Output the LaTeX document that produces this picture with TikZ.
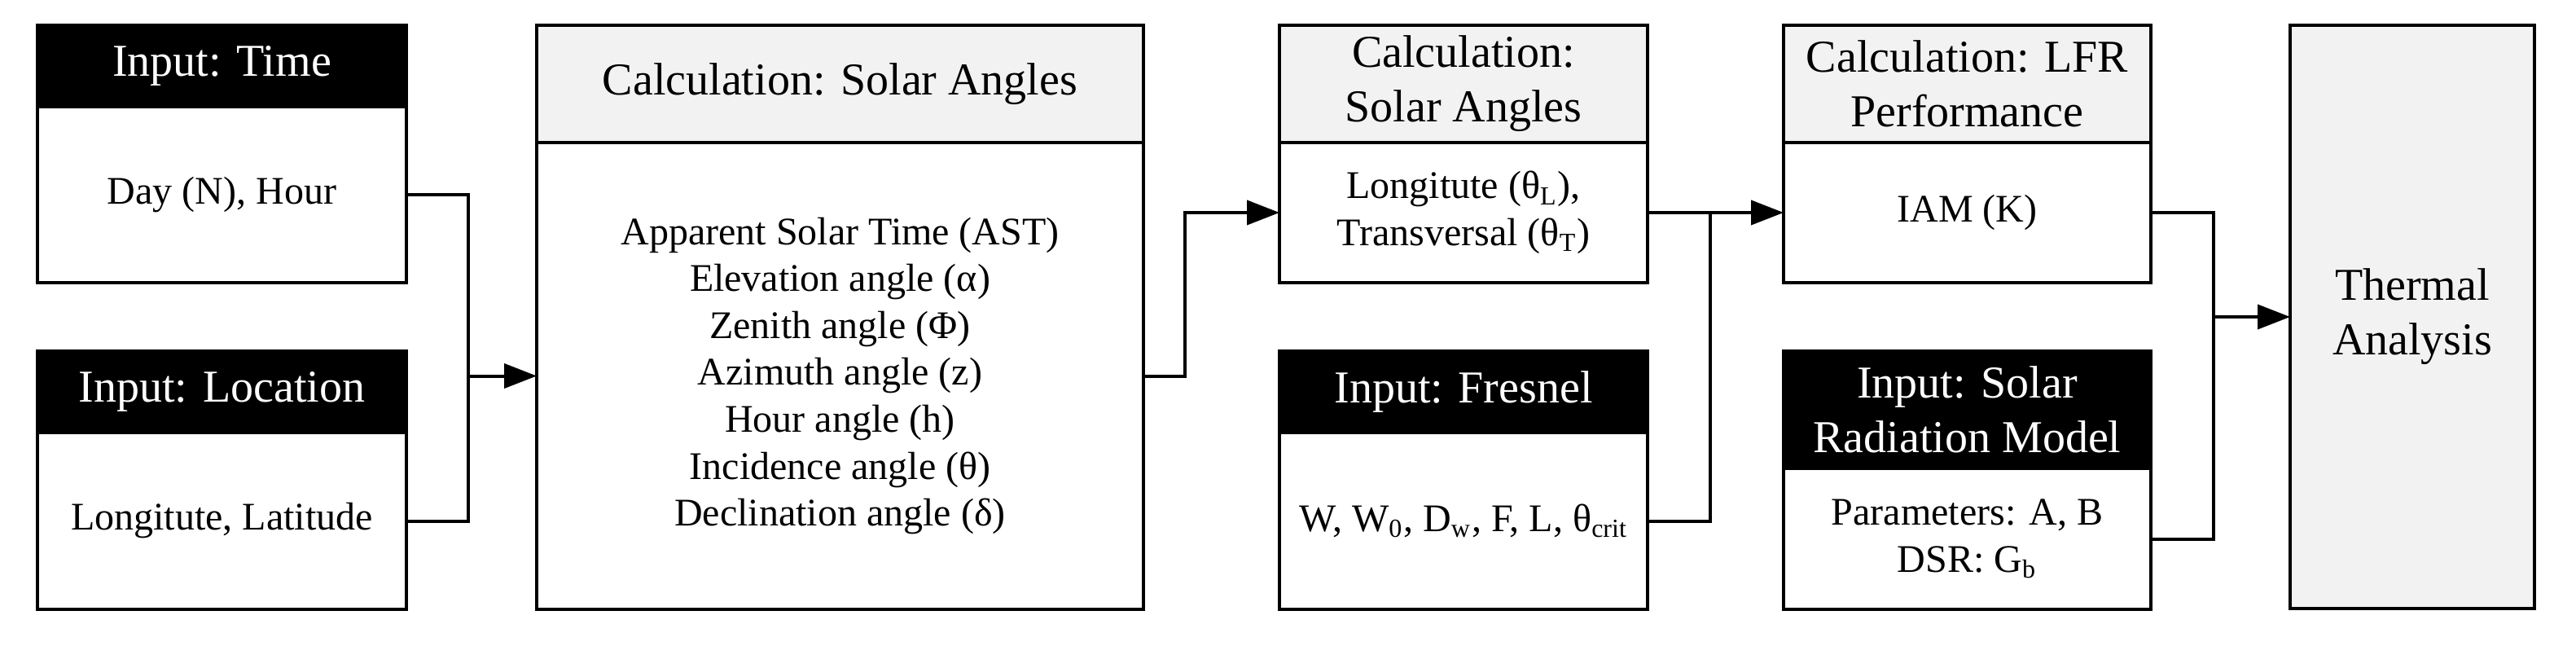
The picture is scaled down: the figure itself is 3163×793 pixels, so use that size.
\documentclass[tikz,border=0pt]{standalone}
\usepackage{fontspec}
\setmainfont{Liberation Serif}
\usetikzlibrary{arrows.meta,calc}
\definecolor{hdrgray}{RGB}{242,242,242}
\tikzset{
  box/.style={draw, line width=1pt, anchor=north west, inner sep=0pt, outer sep=0pt, align=center,
    font=\fontsize{12}{14.4}\selectfont},
  inhdr/.style={box, fill=black, text=white, font=\fontsize{14}{16.8}\selectfont},
  calchdr/.style={box, fill=hdrgray, font=\fontsize{14}{16.8}\selectfont},
  conn/.style={line width=1pt},
  arr/.style={line width=1pt, -{Triangle[length=10pt,width=7.5pt]}},
}
\begin{document}
\begin{tikzpicture}[x=0.25pt,y=-0.25pt]
\useasboundingbox (0,0) rectangle (3163,793);
% Input: Time
\node[inhdr, minimum width=113.25pt, minimum height=25pt] (timeH) at (46,31) {Input: Time};
\node[box, minimum width=113.25pt, minimum height=54pt] (timeB) at (timeH.south west) {Day (N), Hour};
% Input: Location
\node[inhdr, minimum width=113.25pt, minimum height=25pt] (locH) at (46,431) {Input: Location};
\node[box, minimum width=113.25pt, minimum height=54.25pt] (locB) at (locH.south west) {Longitute, Latitude};
% Calculation: Solar Angles (big)
\node[calchdr, minimum width=186.25pt, minimum height=36pt] (calcH) at (659,31) {Calculation: Solar Angles};
\node[box, minimum width=186.25pt, minimum height=143.25pt] (calcB) at (calcH.south west)
  {Apparent Solar Time (AST)\\Elevation angle (α)\\Zenith angle (Φ)\\Azimuth angle (z)\\Hour angle (h)\\Incidence angle (θ)\\Declination angle (δ)};
% Calculation: Solar Angles (second)
\node[calchdr, minimum width=113pt, minimum height=36pt] (saH) at (1571,31) {Calculation:\\Solar Angles};
\node[box, minimum width=113pt, minimum height=43pt] (saB) at (saH.south west)
  {Longitute (θ\textsubscript{L}),\\Transversal (θ\textsubscript{T})};
% Input: Fresnel
\node[inhdr, minimum width=113pt, minimum height=25pt] (fresH) at (1571,431) {Input: Fresnel};
\node[box, minimum width=113pt, minimum height=54.25pt] (fresB) at (fresH.south west)
  {W, W\textsubscript{0}, D\textsubscript{w}, F, L, θ\textsubscript{crit}};
% Calculation: LFR Performance
\node[calchdr, minimum width=112.75pt, minimum height=36pt] (lfrH) at (2190,31) {Calculation: LFR\\Performance};
\node[box, minimum width=112.75pt, minimum height=43pt] (lfrB) at (lfrH.south west) {IAM (K)};
% Input: Solar Radiation Model
\node[inhdr, minimum width=112.75pt, minimum height=36pt] (srH) at (2190,431) {Input: Solar\\Radiation Model};
\node[box, minimum width=112.75pt, minimum height=43.25pt] (srB) at (srH.south west)
  {Parameters: A, B\\DSR: G\textsubscript{b}};
% Thermal Analysis
\node[calchdr, minimum width=75pt, minimum height=179pt] (therm) at (2812,31) {Thermal\\Analysis};
% connectors
\path (calcB.west) ++(-21pt,0) coordinate (jL);
\draw[conn] (timeB.east) -| (jL);
\draw[conn] (locB.east) -| (jL);
\draw[arr] (jL) -- (calcB.west);
\path (calcB.east) ++(12.75pt,0) coordinate (jC);
\draw[arr] (calcB.east) -- (jC) |- (saB.west);
\path (saB.east) ++(19.25pt,0) coordinate (jS);
\draw[arr] (saB.east) -- (lfrB.west);
\draw[conn] (fresB.east) -| (jS);
\path (lfrB.east) ++(19.25pt,0) coordinate (jT);
\coordinate (jM) at (jT |- therm.west);
\draw[conn] (lfrB.east) -| (jM);
\draw[conn] (srB.east) -| (jM);
\draw[arr] (jM) -- (therm.west);
\end{tikzpicture}
\end{document}
